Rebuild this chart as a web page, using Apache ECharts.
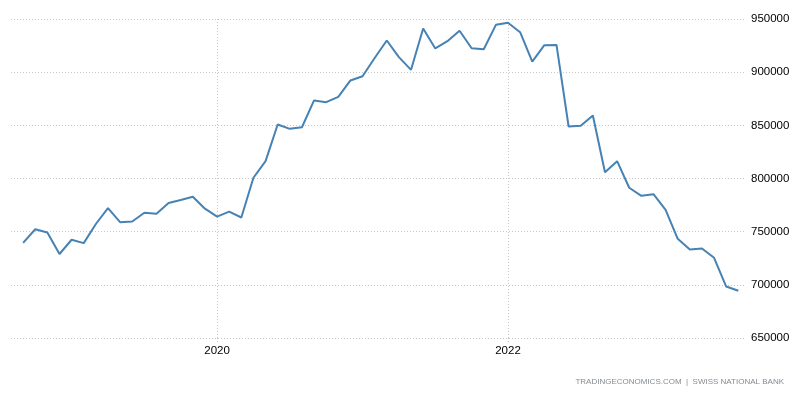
<!DOCTYPE html>
<html>
<head>
<meta charset="utf-8">
<script src="https://cdn.jsdelivr.net/npm/echarts@6/dist/echarts.min.js"></script>
<style>
  html, body { margin: 0; padding: 0; background: #fff; }
  #chart { width: 796px; height: 393px; }
</style>
</head>
<body>
<div id="chart"></div>
<script>
// Monthly values, Sep 2018 .. Aug 2023 (index 0 = Sep 2018)
const months = ['2018-09','2018-10','2018-11','2018-12','2019-01','2019-02','2019-03','2019-04','2019-05','2019-06','2019-07','2019-08','2019-09','2019-10','2019-11','2019-12','2020-01','2020-02','2020-03','2020-04','2020-05','2020-06','2020-07','2020-08','2020-09','2020-10','2020-11','2020-12','2021-01','2021-02','2021-03','2021-04','2021-05','2021-06','2021-07','2021-08','2021-09','2021-10','2021-11','2021-12','2022-01','2022-02','2022-03','2022-04','2022-05','2022-06','2022-07','2022-08','2022-09','2022-10','2022-11','2022-12','2023-01','2023-02','2023-03','2023-04','2023-05','2023-06','2023-07','2023-08'];
const values = [739500, 752300, 749200, 729000, 742400, 739200, 757200, 772100, 758900, 759600,
                767800, 766900, 777000, 779800, 782900, 771600, 764100, 768800, 763300, 800700,
                816300, 850800, 846700, 848200, 873400, 871800, 876800, 892200, 896200, 913300,
                929800, 914100, 902200, 941100, 922300, 929100, 938900, 922500, 921600, 944500,
                946400, 937600, 910000, 925400, 925600, 848900, 849600, 859300, 805900, 816300,
                791300, 783700, 785200, 770600, 743300, 733200, 734200, 725400, 698400, 694400];
const yearTickIndex = [16, 40];
const yearTickLabels = ['2020', '2022'];
const yTicks = [650000, 700000, 750000, 800000, 850000, 900000, 950000];
const sourceText = 'TRADINGECONOMICS.COM  |  SWISS NATIONAL BANK';

const seriesData = values.map((v, i) => [i, v]);
const chart = echarts.init(document.getElementById('chart'), null, { renderer: 'canvas' });
const gridStyle = { color: '#c8c8c8', width: 1, type: [1, 2] };
const font = '"Liberation Sans", Arial, sans-serif';

chart.setOption({
  animation: false,
  backgroundColor: '#ffffff',
  grid: { left: 11, right: 51, top: 19, bottom: 55, containLabel: false },
  xAxis: {
    type: 'value',
    min: -1,
    max: 59.55,
    axisLine: { show: false },
    axisTick: { show: true, length: 5, customValues: yearTickIndex, lineStyle: gridStyle },
    splitLine: { show: true, lineStyle: gridStyle },
    axisLabel: {
      customValues: yearTickIndex,
      margin: 7,
      fontFamily: font,
      fontSize: 11.5,
      color: '#000',
      formatter: function (v) {
        const k = yearTickIndex.indexOf(Math.round(v));
        return k >= 0 ? yearTickLabels[k] : '';
      }
    }
  },
  yAxis: {
    type: 'value',
    position: 'right',
    min: yTicks[0],
    max: yTicks[yTicks.length - 1],
    interval: 50000,
    axisLine: { show: false },
    axisTick: { show: false },
    splitLine: { show: true, lineStyle: gridStyle },
    axisLabel: {
      margin: 6, fontFamily: font, fontSize: 11.5, color: '#000',
      formatter: function (v) { return String(v); }
    }
  },
  series: [{
    type: 'line',
    data: seriesData,
    symbol: 'none',
    lineStyle: { color: '#4682b4', width: 2 },
    itemStyle: { color: '#4682b4' }
  }],
  graphic: [{
    type: 'text',
    right: 12,
    top: 378,
    style: { text: sourceText, fill: '#858b91', font: '8px "Liberation Sans", Arial, sans-serif' }
  }]
});
</script>
</body>
</html>
